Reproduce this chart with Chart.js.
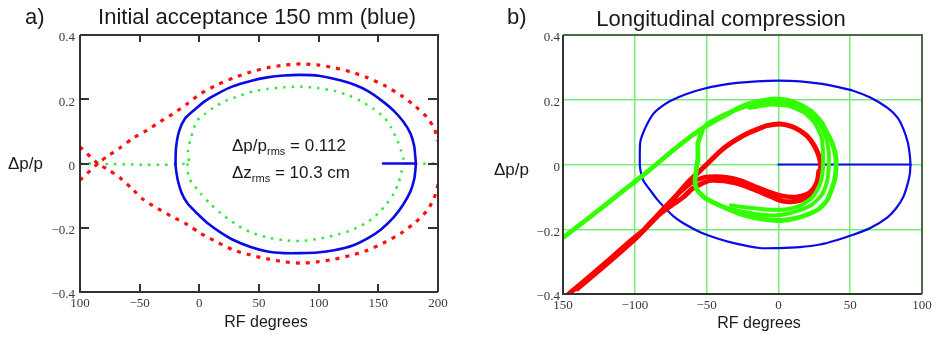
<!DOCTYPE html>
<html>
<head>
<meta charset="utf-8">
<script src="https://cdn.jsdelivr.net/npm/chart.js@4.4.1/dist/chart.umd.min.js"></script>
<style>
  html, body { margin:0; padding:0; background:#fff; }
  canvas { position:absolute; top:0; }
  #ca { left:0; }
  #cb { left:470px; }
</style>
</head>
<body>
<canvas id="ca" width="470" height="338"></canvas>
<canvas id="cb" width="466" height="338"></canvas>
<script>
// ---------------- DATA ----------------
// Panel a) : RF degrees vs dp/p
const xTicksA = [-100, -50, 0, 50, 100, 150, 200];
const xLabelsA = ['100', '\u221250', '0', '50', '100', '150', '200'];
const yTicks = [-0.4, -0.2, 0, 0.2, 0.4];
const yLabels = ['\u22120.4', '\u22120.2', '0', '0.2', '0.4'];

// blue acceptance (solid)
const accTop = [[-20,0],[-19.5,0.05],[-17,0.10],[-12,0.14],[-5,0.164],[5,0.195],[15,0.217],[28,0.24],[43,0.257],[57,0.268],[71,0.274],[85,0.276],[100,0.273],[118,0.259],[130,0.245],[141,0.226],[152,0.198],[163,0.164],[171,0.13],[177,0.093],[180,0.055],[181,0.02],[181.5,0]];
const accBottom = [[181.5,0],[181,-0.022],[180,-0.05],[177,-0.086],[171,-0.127],[163,-0.167],[152,-0.206],[141,-0.233],[128,-0.256],[113,-0.27],[99,-0.277],[85,-0.279],[71,-0.279],[57,-0.274],[43,-0.26],[29,-0.239],[18,-0.215],[7,-0.186],[-2,-0.155],[-10,-0.124],[-15,-0.09],[-18,-0.053],[-19.5,-0.02],[-20,0]];
const accLine = [[154,0],[181.5,0]];

// red separatrix (dotted)
const sepUpper = [[-100,-0.052],[-85,0],[-76,0.025],[-66,0.05],[-56,0.078],[-44,0.103],[-33,0.13],[-22,0.155],[-10,0.186],[1,0.217],[15,0.245],[29,0.267],[43,0.285],[57,0.298],[71,0.306],[85,0.31],[99,0.307],[113,0.298],[127,0.285],[141,0.267],[155,0.243],[169,0.212],[181,0.178],[191,0.143],[197,0.107],[200,0.07]];
const sepLower = [[-100,0.052],[-85,0],[-76,-0.02],[-66,-0.046],[-56,-0.08],[-47,-0.112],[-35,-0.14],[-22,-0.167],[-10,-0.19],[1,-0.217],[15,-0.245],[29,-0.27],[43,-0.285],[57,-0.297],[71,-0.306],[85,-0.31],[99,-0.306],[113,-0.298],[127,-0.286],[141,-0.27],[155,-0.246],[169,-0.217],[181,-0.183],[191,-0.146],[197,-0.105],[200,-0.065]];

// green inner contour (dotted)
const inTop = [[-100,0],[-10,0],[-9.5,0.04],[-7,0.08],[-2,0.133],[5,0.155],[12,0.174],[22,0.195],[34,0.211],[45,0.224],[57,0.232],[71,0.237],[85,0.239],[99,0.235],[113,0.226],[125,0.212],[135,0.195],[146,0.17],[155,0.143],[161,0.11],[166,0.071],[169,0.04],[171,0.015],[171.5,0],[200,0]];
const inBottom = [[-10,0],[-9,-0.043],[-4,-0.07],[1,-0.093],[9,-0.125],[18,-0.155],[30,-0.188],[43,-0.214],[57,-0.23],[71,-0.239],[85,-0.241],[99,-0.235],[113,-0.224],[127,-0.208],[140,-0.185],[150,-0.155],[157,-0.125],[163,-0.093],[167,-0.06],[169,-0.031],[171.5,0]];

// Panel b)
const xTicksB = [-150, -100, -50, 0, 50, 100];
const xLabelsB = ['150', '\u2212100', '\u221250', '0', '50', '100'];

const ellTop = [[-96.5,0],[-96.5,0.04],[-96,0.074],[-92,0.12],[-87,0.157],[-81,0.18],[-75,0.197],[-64,0.218],[-52,0.234],[-40,0.245],[-29,0.252],[-15,0.257],[0,0.259],[15,0.257],[29,0.25],[41,0.24],[52,0.228],[64,0.207],[76,0.175],[83,0.145],[87,0.11],[90,0.07],[91.5,0.03],[92,0]];
const ellBottom = [[92,0],[91.5,-0.03],[90,-0.06],[87,-0.1],[82,-0.135],[76,-0.163],[64,-0.196],[52,-0.217],[41,-0.233],[29,-0.247],[15,-0.255],[0,-0.258],[-13,-0.258],[-31,-0.243],[-43,-0.228],[-54,-0.21],[-64,-0.187],[-73,-0.16],[-84,-0.11],[-90,-0.075],[-94,-0.05],[-96,-0.02],[-96.5,0]];
const ellLine = [[0,0],[92,0]];

const greenOuter = [[-150,-0.226],[-130,-0.158],[-110,-0.088],[-90,-0.018],[-73,0.045],[-60,0.09],[-50,0.12],[-40,0.145],[-33,0.162],[-25,0.18],[-17,0.192],[-8,0.2],[-3,0.203],[5,0.2],[10,0.194],[17,0.18],[24,0.16],[30,0.13],[34,0.097],[38,0.06],[40,0.022],[40,-0.02],[39,-0.05],[34,-0.11],[28,-0.138],[20,-0.155],[10,-0.168],[1,-0.173],[-8,-0.17],[-17,-0.164],[-27,-0.152],[-36,-0.136],[-45,-0.118],[-52,-0.1],[-57,-0.075],[-58,-0.049],[-57,-0.01],[-56,0.022],[-56,0.065],[-53,0.105]];
const greenMid = [[-50,0.125],[-40,0.15],[-30,0.168],[-17,0.185],[-5,0.192],[5,0.19],[14,0.178],[22,0.158],[29,0.125],[33,0.085],[35,0.04],[35,-0.01],[34,-0.05],[30,-0.095],[23,-0.125],[12,-0.145],[0,-0.157],[-12,-0.155],[-22,-0.148],[-33,-0.138],[-42,-0.124]];
const greenInner = [[-20,0.175],[-5,0.185],[8,0.18],[18,0.16],[25,0.13],[30,0.085],[31,0.04],[31,-0.01],[29,-0.06],[24,-0.1],[16,-0.125],[6,-0.138],[-5,-0.14],[-15,-0.136],[-25,-0.131],[-33,-0.126]];

const redMain = [[-146,-0.40],[-130,-0.34],[-115,-0.283],[-104,-0.24],[-94,-0.203],[-80,-0.14],[-70,-0.09],[-63,-0.055],[-50,0],[-40,0.043],[-31,0.072],[-22,0.095],[-14,0.11],[-8,0.12],[1,0.125],[9,0.118],[15,0.105],[20,0.088],[24,0.065],[27,0.04],[29,0.012],[29.5,-0.02],[29,-0.049],[27,-0.072],[24,-0.089],[20,-0.102],[15,-0.111],[9,-0.115],[3,-0.113],[-3,-0.103],[-10,-0.09],[-17,-0.077],[-24,-0.065],[-31,-0.056],[-38,-0.05],[-47,-0.049],[-54,-0.06],[-60,-0.075],[-66,-0.10],[-74,-0.125],[-82,-0.151],[-88,-0.175],[-94,-0.203],[-100,-0.225]];
const redSecond = [[-140,-0.385],[-120,-0.31],[-100,-0.232],[-92,-0.196],[-85,-0.16],[-76,-0.118],[-67,-0.08],[-60,-0.055],[-52,-0.04],[-44,-0.037],[-35,-0.04],[-26,-0.05],[-16,-0.068],[-6,-0.085],[4,-0.098],[12,-0.1],[19,-0.093],[24,-0.076],[27,-0.05],[28,-0.02]];

// ---------------- RENDERING ----------------
const SANS = '"Liberation Sans", Arial, sans-serif';
const SERIF = '"Liberation Serif", "Times New Roman", serif';
const pts = a => a.map(p => ({x: p[0], y: p[1]}));

function ds(arr, color, width, dash, order, tension) {
  return { data: pts(arr), showLine: true, borderColor: color, borderWidth: width,
           borderDash: dash || [], pointRadius: 0, tension: tension === undefined ? 0.25 : tension, fill: false,
           order: order, borderCapStyle: dash ? 'butt' : 'round', borderJoinStyle: 'round' };
}

function textPlugin(items) {
  return {
    id: 'texts',
    afterDraw(chart) {
      const ctx = chart.ctx;
      items.forEach(it => {
        ctx.save();
        ctx.fillStyle = '#1a1a1a';
        ctx.textBaseline = 'alphabetic';
        ctx.textAlign = 'left';
        let w = 0;
        it.parts.forEach(p => { ctx.font = p.size + 'px ' + SANS; w += ctx.measureText(p.t).width; });
        let x = it.align === 'center' ? it.x - w / 2 : it.x;
        it.parts.forEach(p => {
          ctx.font = p.size + 'px ' + SANS;
          ctx.fillText(p.t, x, it.y + (p.dy || 0));
          x += ctx.measureText(p.t).width;
        });
        ctx.restore();
      });
    }
  };
}

function framePlugin(opts) {
  return {
    id: 'frame',
    afterDatasetsDraw(chart) {
      const ctx = chart.ctx, a = chart.chartArea;
      const xs = chart.scales.x, ys = chart.scales.y;
      ctx.save();
      if (opts.inwardTicks) {
        ctx.strokeStyle = '#333';
        ctx.lineWidth = 2;
        ctx.beginPath();
        xs.ticks.forEach(t => {
          const px = Math.round(xs.getPixelForValue(t.value));
          ctx.moveTo(px, a.top); ctx.lineTo(px, a.top + 7);
          ctx.moveTo(px, a.bottom); ctx.lineTo(px, a.bottom - 8);
        });
        ys.ticks.forEach(t => {
          const py = Math.round(ys.getPixelForValue(t.value));
          ctx.moveTo(a.left, py); ctx.lineTo(a.left + 9, py);
          ctx.moveTo(a.right, py); ctx.lineTo(a.right - 10, py);
        });
        ctx.stroke();
      }
      ctx.lineWidth = 2;
      ctx.strokeStyle = opts.topRight;
      ctx.beginPath();
      ctx.moveTo(a.left, a.top); ctx.lineTo(a.right, a.top); ctx.lineTo(a.right, a.bottom);
      ctx.stroke();
      ctx.strokeStyle = '#333';
      ctx.beginPath();
      ctx.moveTo(a.left, a.top); ctx.lineTo(a.left, a.bottom); ctx.lineTo(a.right, a.bottom);
      ctx.stroke();
      ctx.restore();
    }
  };
}

function scalesFor(xTicks, xLabels, yWidth, xHeight, grid, yPad) {
  const tickFont = { family: SERIF, size: 13 };
  const gridOpt = grid ? { display: true, color: '#78ee78', lineWidth: 1.5, drawTicks: false, drawOnChartArea: true }
                       : { display: false, drawTicks: false };
  return {
    x: {
      type: 'linear', min: xTicks[0], max: xTicks[xTicks.length - 1],
      afterBuildTicks: s => { s.ticks = xTicks.map(v => ({ value: v })); },
      afterFit: s => { s.height = xHeight; },
      grid: gridOpt, border: { display: false },
      ticks: { callback: (v, i) => xLabels[i], font: tickFont, color: '#3a3a3a', padding: 4, maxRotation: 0, autoSkip: false }
    },
    y: {
      type: 'linear', min: yTicks[0], max: yTicks[yTicks.length - 1],
      afterBuildTicks: s => { s.ticks = yTicks.map(v => ({ value: v })); },
      afterFit: s => { s.width = yWidth; },
      grid: gridOpt, border: { display: false },
      ticks: { callback: (v, i) => yLabels[i], font: tickFont, color: '#3a3a3a', padding: yPad, labelOffset: 3, autoSkip: false }
    }
  };
}

const commonOpts = {
  responsive: false, animation: false, maintainAspectRatio: false,
  plugins: { legend: { display: false }, tooltip: { enabled: false }, title: { display: false } }
};

// Panel a)
new Chart(document.getElementById('ca'), {
  type: 'scatter',
  data: { datasets: [
    ds(accTop, '#0a0ae6', 2.6, null, 1),
    ds(accBottom, '#0a0ae6', 2.6, null, 1),
    ds(accLine, '#0a0ae6', 2.6, null, 1, 0),
    ds(sepUpper, '#ff1010', 3.2, [4, 6], 2),
    ds(sepLower, '#ff1010', 3.2, [4, 6], 2),
    ds(inTop, '#33e833', 2.5, [2.5, 6], 3),
    ds(inBottom, '#33e833', 2.5, [2.5, 6], 3)
  ]},
  options: Object.assign({}, commonOpts, {
    layout: { padding: { left: 0, right: 32, top: 35, bottom: 0 } },
    scales: scalesFor(xTicksA, xLabelsA, 80, 46, false, 5)
  }),
  plugins: [
    framePlugin({ inwardTicks: true, topRight: '#333' }),
    textPlugin([
      { x: 25, y: 24, parts: [{ t: 'a)', size: 22 }] },
      { x: 257, y: 24, align: 'center', parts: [{ t: 'Initial acceptance 150 mm (blue)', size: 22 }] },
      { x: 8, y: 169, parts: [{ t: '\u0394p/p', size: 17 }] },
      { x: 266, y: 327, align: 'center', parts: [{ t: 'RF degrees', size: 16 }] },
      { x: 232, y: 151, parts: [{ t: '\u0394p/p', size: 17 }, { t: 'rms', size: 11, dy: 4 }, { t: ' = 0.112', size: 17 }] },
      { x: 232, y: 178, parts: [{ t: '\u0394z', size: 17 }, { t: 'rms', size: 11, dy: 4 }, { t: ' = 10.3 cm', size: 17 }] }
    ])
  ]
});

// Panel b)
new Chart(document.getElementById('cb'), {
  type: 'scatter',
  data: { datasets: [
    ds(greenOuter, '#33ff00', 4.8, null, 1, 0.2),
    ds(greenMid, '#33ff00', 4, null, 1, 0.2),
    ds(greenInner, '#33ff00', 4, null, 1, 0.2),
    ds(redMain, '#ff0000', 5, null, 2, 0.2),
    ds(redSecond, '#ff0000', 4.5, null, 2, 0.2),
    ds(ellTop, '#0a0ae6', 2.2, null, 3),
    ds(ellBottom, '#0a0ae6', 2.2, null, 3),
    ds(ellLine, '#0a0ae6', 2.2, null, 3, 0)
  ]},
  options: Object.assign({}, commonOpts, {
    layout: { padding: { left: 0, right: 14, top: 35, bottom: 0 } },
    scales: scalesFor(xTicksB, xLabelsB, 93, 44, true, 3)
  }),
  plugins: [
    framePlugin({ inwardTicks: false, topRight: '#4a6a4a' }),
    textPlugin([
      { x: 37, y: 24, parts: [{ t: 'b)', size: 22 }] },
      { x: 251, y: 26, align: 'center', parts: [{ t: 'Longitudinal compression', size: 22 }] },
      { x: 24, y: 175, parts: [{ t: '\u0394p/p', size: 17 }] },
      { x: 289, y: 328, align: 'center', parts: [{ t: 'RF degrees', size: 16 }] }
    ])
  ]
});
</script>
</body>
</html>
